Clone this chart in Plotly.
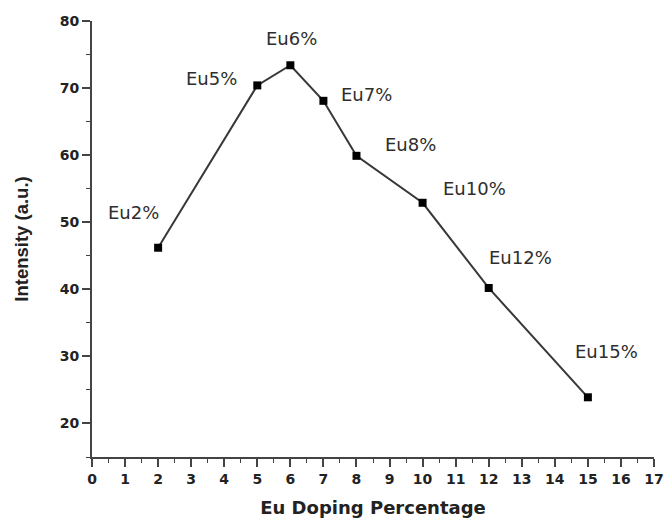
import plotly.graph_objects as go

# Eu doping level (%) and emission intensity
doping = [2, 5, 6, 7, 8, 10, 12, 15]
intensity = [46.2, 70.4, 73.4, 68.1, 59.9, 52.9, 40.2, 23.9]
labels = ["Eu2%", "Eu5%", "Eu6%", "Eu7%", "Eu8%", "Eu10%", "Eu12%", "Eu15%"]
# label anchor positions in data units
label_x = [1.26, 3.61, 6.02, 8.29, 9.62, 11.58, 12.96, 15.56]
label_y = [51.4, 71.5, 77.4, 69.0, 61.6, 55.0, 44.7, 30.7]

WIDE = "DejaVu Sans, Verdana, sans-serif"
NARROW = "Liberation Sans, Arial, sans-serif"

fig = go.Figure()
fig.add_trace(go.Scatter(
    x=doping, y=intensity, mode="lines+markers",
    line=dict(color="#383838", width=2),
    marker=dict(symbol="square", size=8, color="black"),
    showlegend=False,
))

for lx, ly, t in zip(label_x, label_y, labels):
    fig.add_annotation(x=lx, y=ly, text=t, showarrow=False,
                       font=dict(family=WIDE, size=18, color="#2e2e2e"))

axis_common = dict(
    showline=True, linecolor="#444444", linewidth=1.8,
    ticks="outside", tickcolor="#444444", tickwidth=1.6, ticklen=8,
    showgrid=False, zeroline=False, automargin=False,
    ticklabeloverflow="allow",
    tickfont=dict(family=WIDE, size=14, color="#222222", weight="bold"),
)

fig.update_xaxes(
    range=[0, 17], tick0=0, dtick=1,
    minor=dict(ticks="outside", dtick=0.5, ticklen=4, tickcolor="#444444", tickwidth=1.4),
    title=dict(text="<b>Eu Doping Percentage</b>", standoff=18,
               font=dict(family=WIDE, size=18, color="#222222")),
    **axis_common,
)
fig.update_yaxes(
    range=[15, 80], tick0=20, dtick=10,
    minor=dict(ticks="outside", dtick=5, ticklen=4, tickcolor="#444444", tickwidth=1.4),
    title=dict(text="<b>Intensity (a.u.)</b>", standoff=26,
               font=dict(family=NARROW, size=18.5, color="#222222")),
    **axis_common,
)

fig.update_layout(
    width=665, height=518,
    margin=dict(l=92, r=11, t=21, b=61),
    plot_bgcolor="white", paper_bgcolor="white",
)

fig.write_html("out.html")
